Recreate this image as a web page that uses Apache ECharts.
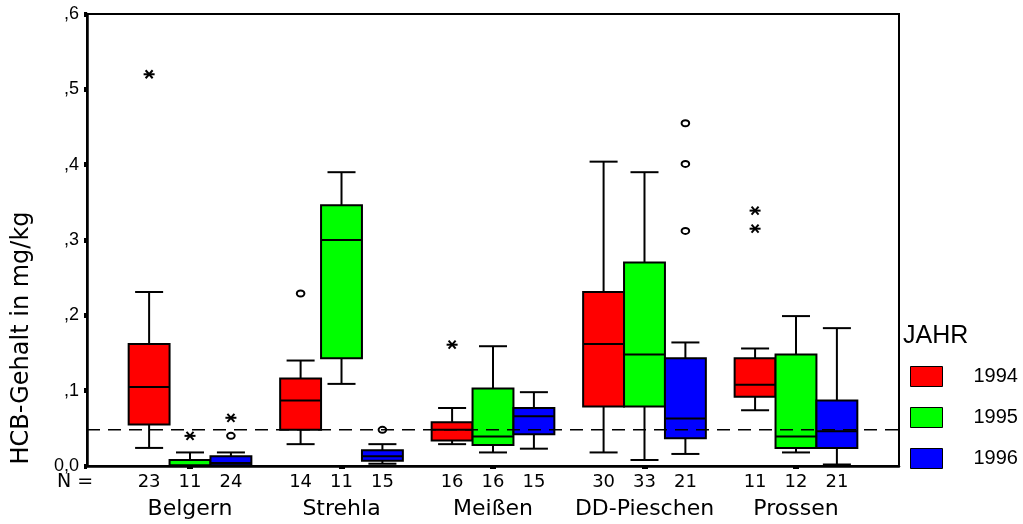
<!DOCTYPE html>
<html>
<head>
<meta charset="utf-8">
<script src="https://cdn.jsdelivr.net/npm/echarts@6/dist/echarts.min.js"></script>
<style>html,body{margin:0;padding:0;background:#fff}#c{width:1023px;height:524px}</style>
</head>
<body>
<div id="c"></div>
<script>
const sites = ['Belgern', 'Strehla', 'Meißen', 'DD-Pieschen', 'Prossen'];
const years = ['1994', '1995', '1996'];
const yearColors = ['#ff0000', '#00ff00', '#0000ff'];
const yTicks = [0, 0.1, 0.2, 0.3, 0.4, 0.5, 0.6];
const yTickLabels = ['0,0', ',1', ',2', ',3', ',4', ',5', ',6'];
// N per site
const n1994 = [23, 14, 16, 30, 11];
const n1995 = [11, 11, 16, 33, 12];
const n1996 = [24, 15, 15, 21, 21];
// [lower whisker, Q1, median, Q3, upper whisker]
const box1994 = [[0.024,0.055,0.105,0.162,0.231],[0.029,0.048,0.087,0.116,0.140],[0.029,0.034,0.048,0.058,0.077],[0.018,0.079,0.162,0.231,0.404],[0.074,0.092,0.108,0.143,0.156]];
const box1995 = [[0.000,0.000,0.001,0.008,0.018],[0.109,0.143,0.300,0.346,0.390],[0.018,0.028,0.039,0.103,0.159],[0.008,0.079,0.148,0.270,0.390],[0.018,0.024,0.039,0.148,0.199]];
const box1996 = [[0.000,0.001,0.004,0.013,0.018],[0.003,0.007,0.013,0.021,0.029],[0.023,0.042,0.066,0.077,0.098],[0.016,0.037,0.063,0.143,0.164],[0.002,0.024,0.046,0.087,0.183]];
// outliers [siteIndex, yearIndex, value]
const outliersCircle = [[0,2,0.040],[1,0,0.229],[1,2,0.048],[3,2,0.455],[3,2,0.401],[3,2,0.312]];
const outliersStar = [[0,0,0.520],[0,1,0.040],[0,2,0.064],[2,0,0.161],[4,0,0.339],[4,0,0.315]];
const refValue = 0.048;

const X_MIN = -0.68, X_MAX = 4.68, OFF = 0.27, HALF = 0.135, CAP = 0.0925;
const boxes = [box1994, box1995, box1996];
const counts = [n1994, n1995, n1996];

function boxRender(yi) {
  return function (params, api) {
    const s = api.value(0);
    const cx = s + (yi - 1) * OFF;
    const low = api.value(1), q1 = api.value(2), med = api.value(3), q3 = api.value(4), high = api.value(5);
    const n = api.value(6);
    const tl = api.coord([cx - HALF, q3]);
    const br = api.coord([cx + HALF, q1]);
    const c = api.coord([cx, 0]);
    const pLow = api.coord([cx, low]), pHigh = api.coord([cx, high]), pMed = api.coord([cx, med]);
    const capL = api.coord([cx - CAP, 0])[0], capR = api.coord([cx + CAP, 0])[0];
    const ls = { stroke: '#000', lineWidth: 2 };
    return {
      type: 'group',
      children: [
        { type: 'line', shape: { x1: c[0], y1: pHigh[1], x2: c[0], y2: tl[1] }, style: ls },
        { type: 'line', shape: { x1: c[0], y1: br[1], x2: c[0], y2: pLow[1] }, style: ls },
        { type: 'line', shape: { x1: capL, y1: pHigh[1], x2: capR, y2: pHigh[1] }, style: ls },
        { type: 'line', shape: { x1: capL, y1: pLow[1], x2: capR, y2: pLow[1] }, style: ls },
        { type: 'rect', shape: { x: tl[0], y: tl[1], width: br[0] - tl[0], height: Math.max(br[1] - tl[1], 1) },
          style: { fill: yearColors[yi], stroke: '#000', lineWidth: 2 } },
        { type: 'line', shape: { x1: tl[0], y1: pMed[1], x2: br[0], y2: pMed[1] }, style: ls },
        { type: 'text', x: c[0], y: c[1] + 16,
          style: { text: String(n), textAlign: 'center', textVerticalAlign: 'middle',
                   fontSize: 18, fontFamily: 'DejaVu Sans', fill: '#000' } }
      ]
    };
  };
}

function outlierRender(kind) {
  return function (params, api) {
    const cx = api.value(0) + (api.value(1) - 1) * OFF;
    const p = api.coord([cx, api.value(2)]);
    const ls = { stroke: '#000', lineWidth: 2, fill: null };
    if (kind === 'circle') {
      return { type: 'ellipse', shape: { cx: p[0], cy: p[1], rx: 3.8, ry: 3 }, style: ls };
    }
    return {
      type: 'group',
      children: [
        { type: 'line', shape: { x1: p[0] - 5.5, y1: p[1], x2: p[0] + 5.5, y2: p[1] }, style: ls },
        { type: 'line', shape: { x1: p[0] - 3.5, y1: p[1] - 4, x2: p[0] + 3.5, y2: p[1] + 4 }, style: ls },
        { type: 'line', shape: { x1: p[0] - 3.5, y1: p[1] + 4, x2: p[0] + 3.5, y2: p[1] - 4 }, style: ls }
      ]
    };
  };
}

const series = years.map((y, yi) => ({
  name: y,
  type: 'custom',
  renderItem: boxRender(yi),
  itemStyle: { color: yearColors[yi], borderColor: '#000', borderWidth: 1 },
  encode: { x: 0, y: [1, 2, 3, 4, 5] },
  data: boxes[yi].map((b, i) => [i, b[0], b[1], b[2], b[3], b[4], counts[yi][i]]),
  z: 2
}));
series.push({
  type: 'custom', name: 'circ', renderItem: outlierRender('circle'),
  encode: { x: 0, y: 2 }, data: outliersCircle, z: 4
});
series.push({
  type: 'custom', name: 'star', renderItem: outlierRender('star'),
  encode: { x: 0, y: 2 }, data: outliersStar, z: 4
});
series.push({
  type: 'line', name: 'ref', data: [[X_MIN, refValue], [X_MAX, refValue]],
  symbol: 'none', silent: true, z: 5,
  lineStyle: { color: '#000', width: 1.5, type: [13, 8] }
});

const chart = echarts.init(document.getElementById('c'), null, { renderer: 'canvas' });
chart.setOption({
  animation: false,
  backgroundColor: '#fff',
  grid: { left: 87, right: 124, top: 14, bottom: 58, show: true, borderColor: '#000', borderWidth: 2 },
  title: { text: 'JAHR', left: 903, top: 324, padding: 0,
    textStyle: { fontSize: 25, fontWeight: 'normal', color: '#000', fontFamily: 'Liberation Sans' } },
  legend: {
    data: years, orient: 'vertical', left: 910, top: 366, padding: 0,
    itemWidth: 32, itemHeight: 20, itemGap: 20, icon: 'rect',
    textStyle: { fontSize: 20, color: '#000', fontFamily: 'Liberation Sans', padding: [0, 0, 0, 26] },
    itemStyle: { borderColor: '#000', borderWidth: 1 }
  },
  xAxis: {
    type: 'value', min: X_MIN, max: X_MAX,
    axisLine: { onZero: false, lineStyle: { color: '#000', width: 2.5 } },
    axisTick: { show: true, customValues: [0, 1, 2, 3, 4], length: 3, lineStyle: { color: '#000', width: 6 } },
    axisLabel: { customValues: [0, 1, 2, 3, 4], formatter: v => sites[Math.round(v)] || '',
      margin: 32, fontSize: 22, color: '#000', fontFamily: 'DejaVu Sans' },
    splitLine: { show: false }
  },
  yAxis: {
    type: 'value', min: 0, max: 0.6, interval: 0.1,
    axisLine: { show: true, onZero: false, lineStyle: { color: '#000', width: 2.5 } },
    axisTick: { show: true, length: 3, lineStyle: { color: '#000', width: 5 } },
    axisLabel: { formatter: v => yTickLabels[yTicks.findIndex(t => Math.abs(t - v) < 1e-6)],
      margin: 8, fontSize: 18, color: '#000', fontFamily: 'Liberation Sans' },
    splitLine: { show: false }
  },
  graphic: [
    { type: 'text', x: 22, y: 338, rotation: Math.PI / 2,
      style: { text: 'HCB-Gehalt in mg/kg', textAlign: 'center', textVerticalAlign: 'middle',
        fontSize: 24, fontFamily: 'DejaVu Sans', fill: '#000' } },
    { type: 'text', x: 57, y: 482,
      style: { text: 'N =', textAlign: 'left', textVerticalAlign: 'middle',
        fontSize: 19, fontFamily: 'DejaVu Sans', fill: '#000' } }
  ],
  series: series
});
</script>
</body>
</html>
